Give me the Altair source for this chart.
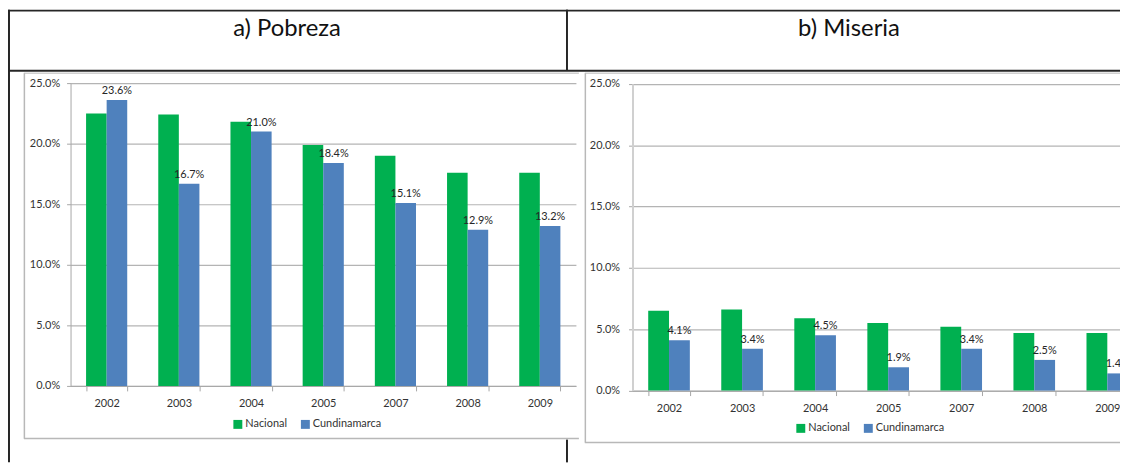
import altair as alt
import pandas as pd

# ---- data ----
years = ["2002", "2003", "2004", "2005", "2007", "2008", "2009"]
series = ["Nacional", "Cundinamarca"]
pobreza_nacional = [0.225, 0.224, 0.218, 0.199, 0.190, 0.176, 0.176]
pobreza_cund = [0.236, 0.167, 0.210, 0.184, 0.151, 0.129, 0.132]
miseria_nacional = [0.065, 0.066, 0.059, 0.055, 0.052, 0.047, 0.047]
miseria_cund = [0.041, 0.034, 0.045, 0.019, 0.034, 0.025, 0.014]
y_ticks = [0.0, 0.05, 0.10, 0.15, 0.20, 0.25]
panel_titles = ["a) Pobreza", "b) Miseria"]

GREEN = "#00B050"
BLUE = "#4F81BD"
FONT = "Lato"
TXT = "#333333"


def make_df(nac, cun):
    rows = []
    for yr, a, b in zip(years, nac, cun):
        rows.append({"year": yr, "series": series[0], "value": a})
        rows.append({"year": yr, "series": series[1], "value": b})
    return pd.DataFrame(rows)


def panel(df, xr, yr, xoff, yoff, lx, ly, ydomain_color, ydomain_width, ylabel_pad):
    base = alt.Chart(df)
    xenc = alt.X(
        "year:N", sort=years, title=None,
        scale=alt.Scale(domain=years, range=xr, paddingInner=0.43, paddingOuter=0.215),
        axis=alt.Axis(orient="bottom", offset=xoff, tickBand="extent", labelAngle=0,
                      domainColor="#a6a6a6", tickColor="#a6a6a6", tickSize=5,
                      labelPadding=7, labelFont=FONT, labelFontSize=11, labelColor=TXT,
                      grid=False),
    )
    yenc = alt.Y(
        "value:Q", title=None,
        scale=alt.Scale(domain=[0, 0.25], range=yr, nice=False, zero=True),
        axis=alt.Axis(orient="left", offset=yoff, values=y_ticks, format=".1%",
                      grid=True, gridColor="#b4b4b4", gridWidth=1.2,
                      domainColor=ydomain_color, domainWidth=ydomain_width,
                      tickColor="#a6a6a6", tickSize=4, labelPadding=ylabel_pad,
                      labelFont=FONT, labelFontSize=11, labelColor=TXT),
    )
    xo = alt.XOffset("series:N", sort=series, scale=alt.Scale(domain=series))
    color = alt.Color(
        "series:N", sort=series,
        scale=alt.Scale(domain=series, range=[GREEN, BLUE]),
        legend=alt.Legend(orient="none", legendX=lx, legendY=ly, direction="horizontal",
                          title=None, symbolType="square", symbolSize=81,
                          symbolStrokeWidth=0, labelFont=FONT, labelFontSize=11,
                          labelColor=TXT, labelOffset=2, columnPadding=12, padding=0),
    )
    bars = base.mark_bar().encode(x=xenc, y=yenc, xOffset=xo, color=color)
    labels = base.transform_filter(alt.datum.series == series[1]).mark_text(
        baseline="bottom", dy=-4, font=FONT, fontSize=11, color="#262626"
    ).encode(
        x=alt.X("year:N", sort=years),
        y=alt.Y("value:Q"),
        xOffset=alt.XOffset("series:N", sort=series),
        text=alt.Text("value:Q", format=".1%"),
    )
    return alt.layer(bars, labels)


one = alt.Chart(pd.DataFrame({"k": [0]}))


def rule(x1, y1, x2, y2, color, width):
    return one.mark_rule(color=color, strokeWidth=width).encode(
        x=alt.value(x1), y=alt.value(y1), x2=alt.value(x2), y2=alt.value(y2))


DARK = "#262626"
FRAME = "#b8b8b8"
decor = [
    # table lines
    rule(0, 1, 1120, 1, DARK, 2),
    rule(0, 61.5, 1120, 61.5, DARK, 2),
    rule(1, 0, 1, 456, DARK, 2),
    rule(563, 0, 563, 61.5, DARK, 2),
    rule(563, 433, 563, 456, DARK, 2),
    # left chart frame
    rule(16.5, 64, 16.5, 432, FRAME, 1.5),
    rule(16, 64, 575, 64, FRAME, 1),
    rule(16, 432, 575, 432, FRAME, 1.5),
    # right chart frame
    rule(581.5, 64, 581.5, 436, FRAME, 1.5),
    rule(581, 64, 1120, 64, FRAME, 1),
    rule(581, 436, 1120, 436, FRAME, 1.5),
    # header texts
    one.mark_text(font=FONT, fontSize=24, color="#111111", align="center", baseline="middle").encode(
        x=alt.value(281), y=alt.value(20), text=alt.value(panel_titles[0])),
    one.mark_text(font=FONT, fontSize=24, color="#111111", align="center", baseline="middle").encode(
        x=alt.value(847), y=alt.value(20), text=alt.value(panel_titles[1])),
]

left = panel(make_df(pobreza_nacional, pobreza_cund), [63, 572], [379, 74], -77, -63,
             226, 412, "#a6a6a6", 1, 7)
right = panel(make_df(miseria_nacional, miseria_cund), [629, 1144], [383.7, 74.7], -72.3, -629,
              793, 416, "#d0d0d0", 2, 9)

chart = alt.layer(*decor, left, right).resolve_scale(
    x="independent", y="independent", xOffset="independent", color="independent"
).properties(
    width=1120, height=456, autosize=alt.AutoSizeParams(type="none"), padding=0,
    background="white",
).configure_view(stroke=None)

chart.save("out.html", embed_options={"renderer": "svg", "actions": False})
